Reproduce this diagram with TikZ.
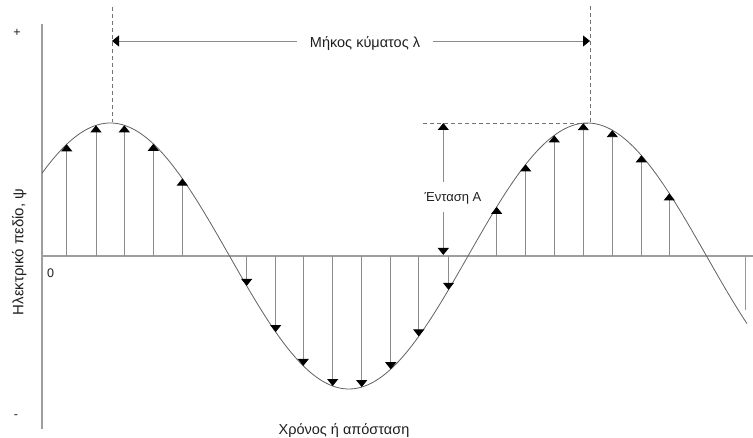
\documentclass[tikz,border=0pt]{standalone}
\usepackage{fontspec}
\setmainfont{Liberation Sans}
\usetikzlibrary{arrows.meta}
\begin{document}
\begin{tikzpicture}[x=1pt,y=-1pt,
  axisline/.style={draw=black!38, line width=1.1pt},
  waveline/.style={draw=black!62, line width=0.8pt},
  shaft/.style={draw=black!45, line width=0.9pt, -{Triangle[length=7pt,width=11pt,color=black,fill=black]}},
  plainshaft/.style={draw=black!40, line width=0.9pt},
  dimline/.style={draw=black!45, line width=0.9pt, -{Triangle[length=7pt,width=11pt,color=black,fill=black]}},
  guide/.style={draw=black!55, line width=0.8pt, dash pattern=on 4pt off 3pt},
  lbl/.style={font=\fontsize{14.5}{16}\selectfont, text=black!88, inner sep=1pt},
  smalllbl/.style={font=\fontsize{12.5}{14}\selectfont, text=black!88, inner sep=1pt}]
\useasboundingbox (0,0) rectangle (753,438);

% axes
\coordinate (ytop) at (42,24);
\coordinate (ybot) at (42,429);
\coordinate (xl) at (42,256);
\coordinate (xr) at (753,256);
\draw[axisline] (ytop) -- (ybot);
\draw[axisline] (xl) -- (xr);

% wave
\draw[waveline] plot[domain=42:747, samples=260, smooth] (\x, {256+133*sin((\x-229.5)/477*360)});

% field arrows
\foreach \px in {66.7,96,124.3,153.3,182.3,246.7,275.7,303.3,332.7,361.7,390.7,418.7,448.5,496.7,525.7,554.3,583.3,612.3,641.3,669.3}
  \draw[shaft] (\px,256) -- (\px,{256+133*sin((\px-229.5)/477*360)});
\coordinate (lastbase) at (745,256);
\coordinate (lastend) at (745,310);
\draw[plainshaft] (lastbase) -- (lastend);

% guides
\coordinate (p1top) at (112,7);
\coordinate (p1) at (112,122);
\coordinate (p2top) at (590,6);
\coordinate (p2) at (590,123);
\coordinate (hg) at (423,123);
\draw[guide] (p1top) -- (p1);
\draw[guide] (p2top) -- (p2);
\draw[guide] (hg) -- (p2);

% wavelength dimension
\node[lbl, anchor=base, inner xsep=13pt] (wl) at (365,47.3) {Μήκος κύματος λ};
\coordinate (wlL) at (112,41);
\coordinate (wlR) at (590,41);
\draw[dimline] (wl.west |- wlL) -- (wlL);
\draw[dimline] (wl.east |- wlR) -- (wlR);

% amplitude
\node[lbl, font=\fontsize{13}{15}\selectfont, anchor=base] (amp) at (453,201.7) {Ένταση Α};
\coordinate (ampU) at (443.3,182);
\coordinate (ampUt) at (443.3,123);
\coordinate (ampD) at (443.3,212);
\coordinate (ampDt) at (443.3,255);
\draw[dimline] (ampU) -- (ampUt);
\draw[dimline] (ampD) -- (ampDt);

% labels
\node[smalllbl] (plus) at (17,33) {+};
\node[smalllbl] (minus) at (16,417) {-};
\node[smalllbl, anchor=base] (zero) at (50.5,277.7) {0};
\node[lbl, font=\fontsize{15}{17}\selectfont, rotate=90, anchor=base] (ylab) at (23.3,252) {Ηλεκτρικό πεδίο, ψ};
\node[lbl, anchor=base] (xlab) at (344,435) {Χρόνος ή απόσταση};
\end{tikzpicture}
\end{document}
